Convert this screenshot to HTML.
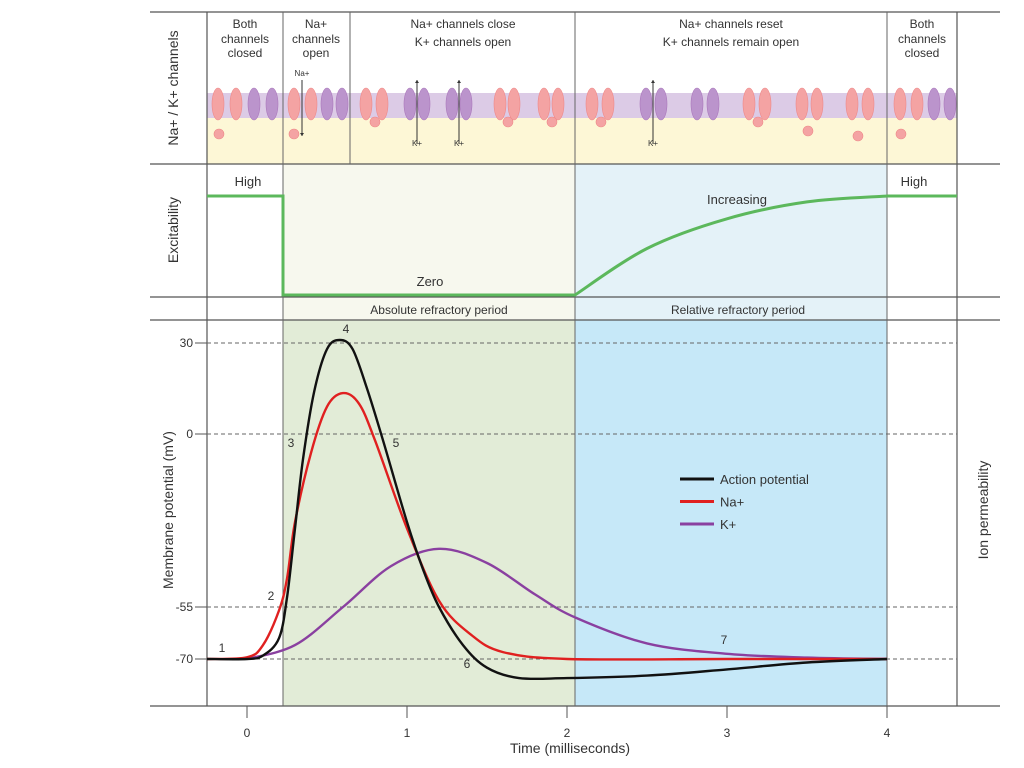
<!DOCTYPE html>
<html><head><meta charset="utf-8"><style>
body{margin:0;background:#fff;}
svg{display:block;font-family:"Liberation Sans",sans-serif;}
</style></head><body>
<svg id="c" width="1024" height="768" viewBox="0 0 1024 768">
<g id="bg"></g>
<g id="membrane"></g>
<g id="grid"></g>
<g id="curves"></g>
<g id="labels"></g>
</svg>
<script>
// ---- data ----
const xTicks = [0, 1, 2, 3, 4];
const yTicks = [30, 0, -55, -70];
const phaseBounds = [0.225, 2.05, 4];
const apT = [-0.25, 0, 0.1, 0.2, 0.25, 0.3, 0.35, 0.42, 0.5, 0.58, 0.66, 0.75, 0.85, 1.0, 1.1, 1.2, 1.35, 1.5, 1.7, 2.0, 2.5, 3.0, 3.5, 4.0];
const apV = [-70, -70, -69, -64, -52, -30, -8, 14, 28, 31, 28, 15, -2, -28, -43, -55, -66, -72.5, -75.5, -75.5, -74.8, -73, -71, -70];
const naT = [-0.25, 0, 0.1, 0.2, 0.25, 0.3, 0.4, 0.5, 0.6, 0.7, 0.8, 1.0, 1.2, 1.4, 1.6, 2.0, 3.0, 4.0];
const naV = [-70, -69.5, -66, -56, -46, -28, -6, 9, 13.5, 10, -2, -30, -53, -63, -68, -70, -70, -70];
const kT = [0, 0.3, 0.6, 0.9, 1.2, 1.5, 1.8, 2.05, 2.5, 3.0, 3.5, 4.0];
const kV = [-70, -66, -55, -42, -36.5, -41, -51, -58, -65.5, -68.5, -69.6, -70];
const excT = [2.05, 2.5, 3.0, 3.5, 4.0];
const excV = [0, 0.47, 0.77, 0.94, 1.0];
const seriesNames = ["Action potential", "Na+", "K+"];
// ---- scales ----
const NS = "http://www.w3.org/2000/svg";
function X(t){ return 247 + t*160; }
function Y(v){
  if (v >= 0) return 434 - (v)*(91/30);
  if (v >= -55) return 434 + (-v)*(173/55);
  return 607 + (-55 - v)*(52/15);
}
function EY(e){ return 295 - e*99; }
function el(tag, attrs, parent, name, inter){
  const e = document.createElementNS(NS, tag);
  for (const k in attrs) e.setAttribute(k, attrs[k]);
  
  
  parent.appendChild(e); return e;
}
function txt(s, x, y, parent, name, opts){
  opts = opts || {};
  const t = el('text', {x:x, y:y, 'font-size':opts.fs||12, fill:opts.fill||'#333', 'text-anchor':opts.anchor||'middle'}, parent, name, false);
  if (opts.rot) t.setAttribute('transform', 'rotate(-90 '+x+' '+y+')');
  t.textContent = s; return t;
}
function smooth(pts){
  let d = 'M'+pts[0][0]+','+pts[0][1];
  for (let i=0;i<pts.length-1;i++){
    const p0=pts[Math.max(0,i-1)], p1=pts[i], p2=pts[i+1], p3=pts[Math.min(pts.length-1,i+2)];
    const c1=[p1[0]+(p2[0]-p0[0])/6, p1[1]+(p2[1]-p0[1])/6];
    const c2=[p2[0]-(p3[0]-p1[0])/6, p2[1]-(p3[1]-p1[1])/6];
    d += ' C'+c1[0].toFixed(1)+','+c1[1].toFixed(1)+' '+c2[0].toFixed(1)+','+c2[1].toFixed(1)+' '+p2[0].toFixed(1)+','+p2[1].toFixed(1);
  }
  return d;
}
const bg = document.getElementById('bg');
const b0 = X(phaseBounds[0]), b1 = X(phaseBounds[1]), b2 = X(phaseBounds[2]);
el('rect',{x:207,y:93,width:750,height:25,fill:'#dccbe6'},bg,'lipid-band',false);
el('rect',{x:207,y:118,width:750,height:46,fill:'#fdf7d6'},bg,'cytoplasm-band',false);
el('rect',{x:b0,y:164,width:b1-b0,height:156,fill:'#f7f8ee'},bg,'absolute-refractory-bg-top',false);
el('rect',{x:b1,y:164,width:b2-b1,height:156,fill:'#e4f2f8'},bg,'relative-refractory-bg-top',false);
el('rect',{x:b0,y:320,width:b1-b0,height:386,fill:'#e2ecd7'},bg,'absolute-refractory-bg',false);
el('rect',{x:b1,y:320,width:b2-b1,height:386,fill:'#c6e8f8'},bg,'relative-refractory-bg',false);
const mem = document.getElementById('membrane');
function chan(x, col, name){ el('ellipse',{cx:x,cy:104,rx:6,ry:16,fill:col==='pink'?'#f4a3a3':'#bb94cc',stroke:col==='pink'?'#e88':'#a7b',"stroke-width":0.6},mem,name,false); }
function ball(x,y){ el('circle',{cx:x,cy:y,r:5,fill:'#f4a3a3',stroke:'#e88','stroke-width':0.6},mem,'inactivation-ball',false); }
function arrow(x,y1,y2,label,ly){
  el('line',{x1:x,y1:y1,x2:x,y2:y2,stroke:'#333','stroke-width':1},mem,'ion-flow-arrow',false);
  const dir = y2>y1?1:-1;
  el('path',{d:'M'+(x-2)+','+(y2-3*dir)+' L'+x+','+y2+' L'+(x+2)+','+(y2-3*dir)+'Z',fill:'#333'},mem,'arrow-head',false);
  txt(label,x,ly,mem,'ion-label',{fs:8});
}
const closedPairs = [[218,236,254,272],[900,917,934,950]];
closedPairs.forEach(p=>{chan(p[0],'pink','na-channel');chan(p[1],'pink','na-channel');chan(p[2],'purple','k-channel');chan(p[3],'purple','k-channel');ball(p[0]+1,134);});
chan(294,'pink','na-channel');chan(311,'pink','na-channel');chan(327,'purple','k-channel');chan(342,'purple','k-channel');ball(294,134);
arrow(302,80,136,'Na+',76);
[[366,382],[500,514],[544,558],[592,608],[749,765]].forEach(p=>{chan(p[0],'pink','na-channel-inactivated');chan(p[1],'pink','na-channel-inactivated');ball((p[0]+p[1])/2+1,122);});
[[410,424],[452,466],[646,661],[697,713]].forEach(p=>{chan(p[0],'purple','k-channel-open');chan(p[1],'purple','k-channel-open');});
[[802,817],[852,868]].forEach(p=>{chan(p[0],'pink','na-channel-reset');chan(p[1],'pink','na-channel-reset');ball(p[0]+6,p[0]>840?136:131);});
arrow(417,144,80,'K+',146);arrow(459,144,80,'K+',146);arrow(653,144,80,'K+',146);
const g = document.getElementById('grid');
[12,164,297,320,706].forEach(y=>el('line',{x1:150,y1:y,x2:1000,y2:y,stroke:'#555','stroke-width':1.2},g,'row-divider',false));
el('line',{x1:207,y1:12,x2:207,y2:706,stroke:'#555','stroke-width':1.2},g,'plot-left-border',false);
el('line',{x1:957,y1:12,x2:957,y2:706,stroke:'#555','stroke-width':1.2},g,'plot-right-border',false);
[b0,b1,b2].forEach(x=>el('line',{x1:x,y1:12,x2:x,y2:706,stroke:'#666','stroke-width':1},g,'phase-divider',false));
el('line',{x1:350,y1:12,x2:350,y2:164,stroke:'#666','stroke-width':1},g,'phase-divider-top',false);
yTicks.forEach(v=>{
  const y=Y(v);
  el('line',{x1:207,y1:y,x2:957,y2:y,stroke:'#666','stroke-width':1,'stroke-dasharray':'4,3'},g,'y-gridline',false);
  el('line',{x1:195,y1:y,x2:207,y2:y,stroke:'#555','stroke-width':1},g,'y-tick',false);
  txt(String(v),193,y+4,g,'y-tick-label',{anchor:'end',fs:12});
});
xTicks.forEach(t=>{
  el('line',{x1:X(t),y1:706,x2:X(t),y2:718,stroke:'#555','stroke-width':1},g,'x-tick',false);
  txt(String(t),X(t),737,g,'x-tick-label',{fs:12});
});
const cv = document.getElementById('curves');
const ePts = excT.map((t,i)=>[X(t),EY(excV[i])]);
el('path',{d:'M207,'+EY(1)+' L'+b0+','+EY(1)+' L'+b0+','+EY(0)+' L'+b1+','+EY(0)+' '+smooth(ePts).replace('M','L')+' L957,'+EY(1),fill:'none',stroke:'#5cb85c','stroke-width':3},cv,'excitability-line',false);
const cols = ['#111','#e02020','#8a40a0'];
const series = [[kT,kV,'k-permeability-line',cols[2]],[naT,naV,'na-permeability-line',cols[1]],[apT,apV,'action-potential-line',cols[0]]];
series.forEach(s=>{
  const pts = s[0].map((t,i)=>[X(t),Y(s[1][i])]);
  el('path',{d:smooth(pts),fill:'none',stroke:s[3],'stroke-width':2.4},cv,s[2],false);
});
seriesNames.forEach((n,i)=>{
  const y = 479 + i*22.5;
  el('line',{x1:680,y1:y,x2:714,y2:y,stroke:cols[i],'stroke-width':3},cv,'legend-swatch',false);
  txt(n,720,y+5,cv,'legend-entry',{anchor:'start',fs:13});
});
const L = document.getElementById('labels');
txt('Both',245,28,L,'phase-title',{fs:12});txt('channels',245,43,L,'phase-title',{fs:12});txt('closed',245,57,L,'phase-title',{fs:12});
txt('Na+',316,28,L,'phase-title',{fs:12});txt('channels',316,43,L,'phase-title',{fs:12});txt('open',316,57,L,'phase-title',{fs:12});
txt('Na+ channels close',463,28,L,'phase-title',{fs:12});txt('K+ channels open',463,46,L,'phase-title',{fs:12});
txt('Na+ channels reset',731,28,L,'phase-title',{fs:12});txt('K+ channels remain open',731,46,L,'phase-title',{fs:12});
txt('Both',922,28,L,'phase-title',{fs:12});txt('channels',922,43,L,'phase-title',{fs:12});txt('closed',922,57,L,'phase-title',{fs:12});
txt('High',248,186,L,'excitability-high-label',{fs:13});txt('High',914,186,L,'excitability-high-label',{fs:13});
txt('Zero',430,286,L,'excitability-zero-label',{fs:13});txt('Increasing',737,204,L,'excitability-increasing-label',{fs:13});
txt('Absolute refractory period',439,314,L,'absolute-refractory-label',{fs:12});
txt('Relative refractory period',738,314,L,'relative-refractory-label',{fs:12});
txt('Na+ / K+ channels',178,88,L,'channels-axis-title',{rot:1,fs:14});
txt('Excitability',178,230,L,'excitability-axis-title',{rot:1,fs:14});
txt('Membrane potential (mV)',173,510,L,'y-axis-title',{rot:1,fs:14});
txt('Ion permeability',988,510,L,'ion-permeability-title',{rot:1,fs:14});
txt('Time (milliseconds)',570,753,L,'x-axis-title',{fs:14});
[['1',222,652],['2',271,600],['3',291,447],['4',346,333],['5',396,447],['6',467,668],['7',724,644]].forEach(a=>txt(a[0],a[1],a[2],L,'phase-number-'+a[0],{fs:12}));
</script>
</body></html>
